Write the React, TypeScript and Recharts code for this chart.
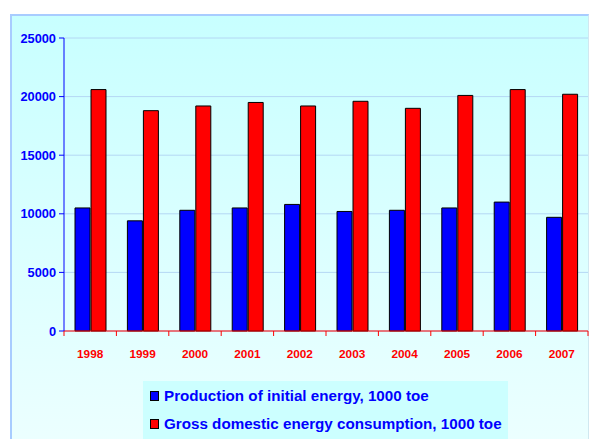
import React from 'react';
import { BarChart, Bar, XAxis, YAxis, CartesianGrid, Legend } from 'recharts';

const years = ['1998', '1999', '2000', '2001', '2002', '2003', '2004', '2005', '2006', '2007'];
const production = [10500, 9400, 10300, 10500, 10800, 10200, 10300, 10500, 11000, 9700];
const consumption = [20600, 18800, 19200, 19500, 19200, 19600, 19000, 20100, 20600, 20200];
const yTicks = [0, 5000, 10000, 15000, 20000, 25000];
const seriesNames = ['Production of initial energy, 1000 toe', 'Gross domestic energy consumption, 1000 toe'];

const data = years.map((year, i) => ({ year, production: production[i], consumption: consumption[i] }));

const FONT = '"Liberation Sans", Arial, sans-serif';
const BAND = 52.4;

const XTick = (props: any) => {
  const { x, y, payload, index } = props;
  const left = x - BAND / 2;
  return (
    <g>
      <line x1={left} y1={y - 8} x2={left} y2={y - 3} stroke="#ff0000" />
      {index === years.length - 1 && (
        <line x1={x + BAND / 2} y1={y - 8} x2={x + BAND / 2} y2={y - 3} stroke="#ff0000" />
      )}
      <text x={x} y={y + 19} textAnchor="middle" fill="#ff0000" fontFamily={FONT} fontWeight="bold" fontSize={11.8}>
        {payload.value}
      </text>
    </g>
  );
};

const LegendBox = () => (
  <div
    style={{
      position: 'absolute',
      left: 143,
      top: 381,
      width: 365,
      height: 58,
      background: '#ccffff',
      fontFamily: FONT,
      fontWeight: 'bold',
      fontSize: 15.2,
      color: '#0000ff',
    }}
  >
    {seriesNames.map((name, i) => (
      <div key={name} style={{ position: 'absolute', left: 7, top: i === 0 ? 6 : 34, whiteSpace: 'nowrap', display: 'flex', alignItems: 'center' }}>
        <span
          style={{
            display: 'inline-block',
            width: 7,
            height: 8,
            background: i === 0 ? '#0000ff' : '#ff0000',
            border: '1px solid #000',
            marginRight: 5,
          }}
        />
        <span>{name}</span>
      </div>
    ))}
  </div>
);

export default function App() {
  return (
    <div style={{ position: 'fixed', left: 0, top: 0, width: 592, height: 439, background: '#fff', overflow: 'hidden' }}>
      <div
        style={{
          position: 'absolute',
          left: 10,
          top: 14,
          width: 576,
          height: 430,
          border: '2px solid #a8ccff',
          borderRight: '1px solid #d0e8f0',
          background: 'linear-gradient(#c8ffff, #ecffff)',
        }}
      />
      <div style={{ position: 'absolute', left: 0, top: 0 }}>
        <BarChart
          width={592}
          height={439}
          data={data}
          margin={{ top: 38, right: 4, bottom: 78, left: 0 }}
          barGap={1}
          barCategoryGap="21%"
        >
          <CartesianGrid vertical={false} stroke="#b4d8f4" />
          <XAxis
            dataKey="year"
            stroke="#ff0000"
            tickLine={false}
            tick={<XTick />}
            interval={0}
            height={30}
          />
          <YAxis
            width={64}
            domain={[0, 25000]}
            ticks={yTicks}
            stroke="#0000ff"
            tickSize={5}
            tickMargin={3}
            tick={{ fill: '#0000ff', fontFamily: FONT, fontWeight: 'bold', fontSize: 12.8 }}
          />
          <Legend content={() => null} />
          <Bar dataKey="production" name={seriesNames[0]} fill="#0000ff" stroke="#000" strokeWidth={1} isAnimationActive={false} />
          <Bar dataKey="consumption" name={seriesNames[1]} fill="#ff0000" stroke="#000" strokeWidth={1} isAnimationActive={false} />
        </BarChart>
      </div>
      <LegendBox />
    </div>
  );
}
